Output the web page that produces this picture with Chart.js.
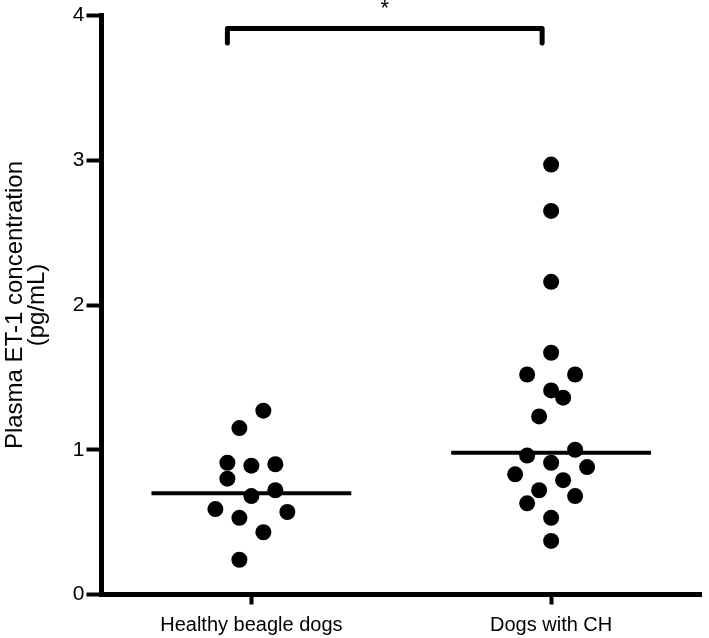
<!DOCTYPE html>
<html><head><meta charset="utf-8">
<script src="https://cdn.jsdelivr.net/npm/chart.js@4/dist/chart.umd.min.js"></script>
<style>html,body{margin:0;padding:0;background:#fff;}canvas{display:block;}</style>
</head><body>
<canvas id="c" width="709" height="638"></canvas>
<script>
// ---- data ----
const categories = ['Healthy beagle dogs', 'Dogs with CH'];
const healthyValues = [1.27, 1.15, 0.91, 0.90, 0.89, 0.80, 0.72, 0.68, 0.59, 0.57, 0.53, 0.43, 0.24];
const chValues = [2.97, 2.65, 2.16, 1.67, 1.52, 1.52, 1.41, 1.36, 1.23, 1.00, 0.96, 0.91, 0.88, 0.83, 0.79, 0.72, 0.68, 0.63, 0.53, 0.37];
const medians = [0.70, 0.98];
const yTickValues = [0, 1, 2, 3, 4];
const yTitle = ['Plasma ET-1 concentration', '(pg/mL)'];
const significanceLabel = '*';

// ---- layout (swarm columns) ----
const healthyColumns = [1, -1, -2, 2, 0, -2, 2, 0, -3, 3, -1, 1, -1];
const chColumns = [0, 0, 0, 0, -2, 2, 0, 1, -1, 2, -2, 0, 3, -3, 1, -1, 2, -2, 0, 0];
const SWARM_STEP = 0.04;
const MEDIAN_HALF = 1 / 3;
const BRACKET = { from: 0.92, to: 1.97, top: 3.91, bottom: 3.81 };
const FONT = 'Liberation Sans';

function swarm(values, cols, center) {
  return values.map((v, i) => ({ x: center + cols[i] * SWARM_STEP, y: v }));
}
function medianLine(i) {
  const c = i + 1;
  return [{ x: c - MEDIAN_HALF, y: medians[i] }, { x: c + MEDIAN_HALF, y: medians[i] }];
}

const pointStyle = { pointRadius: 8, pointHoverRadius: 8, pointBackgroundColor: '#000', pointBorderWidth: 0, showLine: false };
const lineStyle = { borderColor: '#000', pointRadius: 0, showLine: true, fill: false };

const starPlugin = {
  id: 'star',
  afterDraw(chart) {
    const { ctx, scales: { x, y } } = chart;
    ctx.save();
    ctx.fillStyle = '#000';
    ctx.font = '22px "' + FONT + '"';
    ctx.textAlign = 'center';
    ctx.textBaseline = 'top';
    ctx.fillText(significanceLabel, x.getPixelForValue((BRACKET.from + BRACKET.to) / 2), y.getPixelForValue(BRACKET.top) - 31);
    ctx.restore();
  }
};

new Chart(document.getElementById('c'), {
  type: 'scatter',
  data: {
    datasets: [
      Object.assign({ label: categories[0], data: swarm(healthyValues, healthyColumns, 1) }, pointStyle),
      Object.assign({ label: categories[1], data: swarm(chValues, chColumns, 2) }, pointStyle),
      Object.assign({ label: 'median1', data: medianLine(0), borderWidth: 4 }, lineStyle),
      Object.assign({ label: 'median2', data: medianLine(1), borderWidth: 4 }, lineStyle),
      Object.assign({
        label: 'bracket',
        data: [
          { x: BRACKET.from, y: BRACKET.bottom }, { x: BRACKET.from, y: BRACKET.top },
          { x: BRACKET.to, y: BRACKET.top }, { x: BRACKET.to, y: BRACKET.bottom }
        ],
        borderWidth: 5, borderJoinStyle: 'round', borderCapStyle: 'round', tension: 0
      }, lineStyle)
    ]
  },
  options: {
    responsive: false,
    animation: false,
    devicePixelRatio: 1,
    clip: false,
    layout: { padding: { top: 15.5, right: 0, bottom: 0, left: 0 } },
    plugins: { legend: { display: false }, tooltip: { enabled: false } },
    scales: {
      x: {
        type: 'linear',
        min: 0.5, max: 2.5,
        afterBuildTicks(s) { s.ticks = [{ value: 1 }, { value: 2 }]; },
        afterFit(s) { s.height = 43.5; },
        ticks: {
          autoSkip: false, maxRotation: 0, padding: 9,
          color: '#000', font: { family: FONT, size: 20 },
          callback: (v) => categories[v - 1]
        },
        grid: { drawOnChartArea: false, drawTicks: true, tickLength: 10, tickWidth: 4, tickColor: '#000' },
        border: { display: true, width: 5, color: '#000' }
      },
      y: {
        type: 'linear',
        min: yTickValues[0], max: yTickValues[yTickValues.length - 1],
        afterBuildTicks(s) { s.ticks = yTickValues.map(v => ({ value: v })); },
        afterFit(s) { s.width = 101.5; },
        ticks: { padding: 2, color: '#000', font: { family: FONT, size: 21 } },
        grid: { drawOnChartArea: false, drawTicks: true, tickLength: 15, tickWidth: 4, tickColor: '#000' },
        border: { display: true, width: 5, color: '#000' },
        title: {
          display: true, text: yTitle, color: '#000',
          font: { family: FONT, size: 24, lineHeight: 0.92 },
          padding: { top: 4, bottom: 0 }
        }
      }
    }
  },
  plugins: [starPlugin]
});
</script>
</body></html>
